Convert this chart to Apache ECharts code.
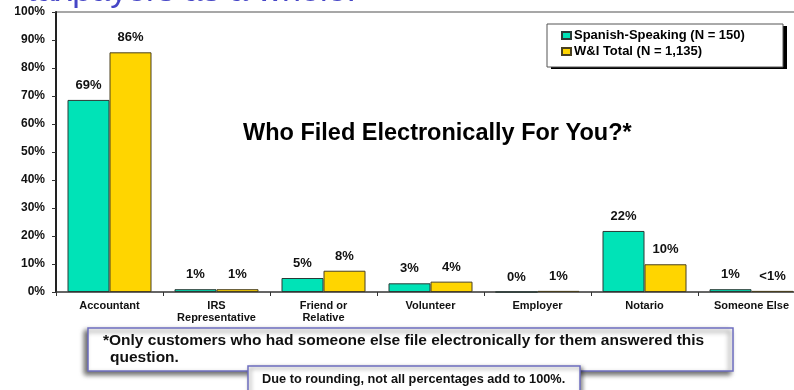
<!DOCTYPE html>
<html>
<head>
<meta charset="utf-8">
<script src="https://cdn.jsdelivr.net/npm/echarts@6/dist/echarts.min.js"></script>
<style>
  html, body { margin: 0; padding: 0; background: #fff; }
  #chart { width: 794px; height: 390px; }
</style>
</head>
<body>
<div id="chart"></div>
<script>
// data
const categories = ['Accountant', 'IRS\nRepresentative', 'Friend or\nRelative', 'Volunteer', 'Employer', 'Notario', 'Someone Else'];
const spanishValues = [68.6, 1, 5, 3.1, 0, 21.8, 1];
const totalValues = [85.6, 1, 7.6, 3.7, 0.4, 9.9, 0.4];
const spanishLabels = ['69%', '1%', '5%', '3%', '0%', '22%', '1%'];
const totalLabels = ['86%', '1%', '8%', '4%', '1%', '10%', '<1%'];
const yTicks = [0, 10, 20, 30, 40, 50, 60, 70, 80, 90, 100];

const FONT = '"Liberation Sans", Arial, sans-serif';

var myChart = echarts.init(document.getElementById('chart'));

// top split line only (plot top border)
var splitColors = yTicks.map(function (t) { return t === 100 ? '#8a8a8a' : 'rgba(0,0,0,0)'; });

function barLabel(texts) {
    return {
        show: true,
        position: 'top',
        distance: 8,
        fontFamily: FONT,
        fontWeight: 'bold',
        fontSize: 13,
        color: '#111',
        formatter: function (p) { return texts[p.dataIndex]; }
    };
}

var option = {
    animation: false,
    textStyle: { fontFamily: FONT },
    title: {
        text: 'Who Filed Electronically For You?*',
        left: 238,
        top: 117,
        textStyle: { fontFamily: FONT, fontWeight: 'bold', fontSize: 23.5, color: '#000' }
    },
    legend: {
        orient: 'vertical',
        left: 547,
        top: 24,
        padding: [5, 24, 5, 14],
        itemGap: 3,
        itemWidth: 9,
        itemHeight: 7,
        icon: 'rect',
        textStyle: { fontFamily: FONT, fontWeight: 'bold', fontSize: 13, color: '#000', padding: [0, 0, 0, -2] },
        data: ['Spanish-Speaking (N = 150)', 'W&I Total (N = 1,135)'],
        z: 20
    },
    grid: { left: 56, top: 12, right: -11, bottom: 98, outerBoundsMode: 'none', containLabel: false },
    xAxis: {
        type: 'category',
        data: categories,
        axisLine: { lineStyle: { color: '#333', width: 1.5 } },
        axisTick: { show: true, interval: 0, length: 4, lineStyle: { color: '#333' } },
        axisLabel: {
            interval: 0,
            margin: 8,
            fontFamily: FONT,
            fontWeight: 'bold',
            fontSize: 11,
            lineHeight: 12,
            color: '#111'
        }
    },
    yAxis: {
        type: 'value',
        min: 0,
        max: 100,
        interval: 10,
        axisLine: { show: true, lineStyle: { color: '#222', width: 2 } },
        axisTick: { show: true, length: 4, lineStyle: { color: '#333' } },
        axisLabel: {
            margin: 11,
            fontFamily: FONT,
            fontWeight: 'bold',
            fontSize: 12,
            color: '#111',
            formatter: '{value}%'
        },
        splitLine: { show: true, lineStyle: { color: splitColors, width: 1.5 } }
    },
    series: [
        {
            name: 'Spanish-Speaking (N = 150)',
            type: 'bar',
            data: spanishValues,
            barWidth: 42,
            barGap: '0%',
            itemStyle: { color: '#00E3B7', borderColor: '#2a3a36', borderWidth: 1 },
            label: barLabel(spanishLabels)
        },
        {
            name: 'W&I Total (N = 1,135)',
            type: 'bar',
            data: totalValues,
            barWidth: 42,
            itemStyle: { color: '#FFD500', borderColor: '#4a4020', borderWidth: 1 },
            label: barLabel(totalLabels)
        }
    ],
    graphic: [
        {
            type: 'text',
            left: 27,
            top: -25,
            style: { text: 'taxpayers as a whole.', fontFamily: FONT, fontSize: 34, fill: '#4646C6' }
        },
        // legend frame with hard black drop shadow
        {
            type: 'rect',
            shape: { x: 551, y: 26, width: 236, height: 43 },
            style: { fill: '#000' },
            z: 15
        },
        {
            type: 'rect',
            shape: { x: 547, y: 24, width: 236, height: 43 },
            style: { fill: '#fff', stroke: '#555', lineWidth: 1 },
            z: 16
        },
        // footnotes
        {
            type: 'rect',
            shape: { x: 88, y: 328, width: 645, height: 43 },
            style: { fill: '#fff', stroke: '#6E6EC0', lineWidth: 1.5, shadowBlur: 5, shadowOffsetX: -3, shadowOffsetY: 3, shadowColor: 'rgba(0,0,0,0.6)' },
            z: 10
        },
        {
            type: 'text',
            x: 103,
            y: 333,
            style: { text: '*Only customers who had someone else file electronically for them answered this', fontFamily: FONT, fontWeight: 'bold', fontSize: 15.5, fill: '#111' },
            z: 11
        },
        {
            type: 'text',
            x: 110,
            y: 350,
            style: { text: 'question.', fontFamily: FONT, fontWeight: 'bold', fontSize: 15.5, fill: '#111' },
            z: 11
        },
        {
            type: 'rect',
            shape: { x: 248, y: 366, width: 332, height: 32 },
            style: { fill: '#fff', stroke: '#6E6EC0', lineWidth: 1.5, shadowBlur: 4, shadowOffsetX: 2, shadowOffsetY: 2, shadowColor: 'rgba(0,0,0,0.45)' },
            z: 12
        },
        {
            type: 'text',
            x: 262,
            y: 373,
            style: { text: 'Due to rounding, not all percentages add to 100%.', fontFamily: FONT, fontWeight: 'bold', fontSize: 12.75, fill: '#111' },
            z: 13
        }
    ]
};

myChart.setOption(option);
</script>
</body>
</html>
